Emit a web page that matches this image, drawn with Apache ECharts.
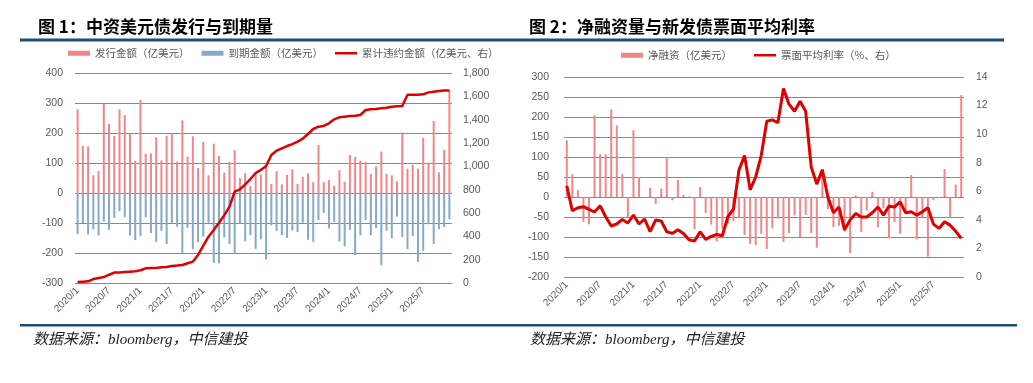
<!DOCTYPE html>
<html><head><meta charset="utf-8">
<script src="https://cdn.jsdelivr.net/npm/echarts@6/dist/echarts.min.js"></script>
<style>html,body{margin:0;padding:0;background:#fff;}#c{width:1033px;height:383px;}</style>
</head><body><div id="c"></div>
<script>
// ---- Data ----
const months = [];
for (let y = 2020; y <= 2025; y++) for (let m = 1; m <= 12; m++) months.push(y + '/' + m);

// Chart 1: issuance (亿美元)
const issuance = [279,157,155,59,74,299,230,190,279,260,199,107,
  310,131,132,186,109,191,199,104,242,121,189,83,
  170,59,164,123,68,103,143,50,66,23,66,62,
  92,30,73,29,60,79,30,54,66,36,160,36,
  43,24,76,38,127,120,108,104,64,89,138,64,
  59,39,202,81,94,81,184,101,240,69,144,343];
// Chart 1: maturity (亿美元, negative)
const maturity = [-137,-100,-138,-121,-142,-95,-123,-83,-60,-81,-142,-157,
  -143,-81,-134,-163,-126,-170,-99,-112,-199,-116,-188,-164,
  -145,-99,-233,-234,-148,-170,-203,-102,-161,-140,-186,-154,
  -222,-108,-127,-141,-150,-125,-130,-99,-156,-163,-90,-66,
  -118,-96,-162,-178,-123,-207,-141,-91,-140,-117,-241,-126,
  -151,-79,-147,-187,-144,-230,-192,-104,-170,-121,-113,-88];
// Chart 1: cumulative default (亿美元, right axis)
const cumDefault = [8,11,14,34,43,51,71,89,91,94,97,100,
  109,126,129,129,134,137,146,149,154,169,183,240,
  320,397,454,517,580,654,783,803,846,891,943,969,
  1003,1097,1134,1154,1174,1191,1211,1237,1277,1320,1340,1346,
  1369,1403,1420,1426,1431,1434,1440,1483,1489,1491,1497,1503,
  1511,1514,1517,1614,1614,1614,1617,1634,1640,1646,1651,1651];
// Chart 2: net financing (亿美元)
const netFin = [142,57,17,-62,-68,204,107,107,219,179,57,-50,
  167,50,-2,23,-17,21,100,-8,43,5,1,-81,
  25,-40,-69,-111,-80,-67,-60,-52,-95,-117,-120,-92,
  -130,-78,-54,-112,-90,-46,-100,-45,-90,-127,70,-30,
  -75,-72,-86,-140,4,-87,-33,13,-76,-28,-103,-62,
  -92,-40,55,-106,-50,-149,-8,-3,70,-52,31,255];
// Chart 2: average coupon rate (%, right axis)
const couponRate = [6.39,4.64,4.85,4.92,4.73,4.55,4.99,4.22,3.57,3.71,4.03,3.78,
  4.34,3.71,4.06,3.17,3.99,3.92,3.17,3.05,3.31,3.05,2.61,2.52,
  3.17,2.63,2.84,2.98,2.89,4.22,4.76,7.5,8.5,6.1,7.0,8.5,
  10.9,11.0,10.8,13.2,12.1,11.6,12.3,11.6,7.7,6.5,7.5,5.6,
  4.5,4.9,3.3,4.0,4.45,4.2,4.2,4.5,4.9,4.33,4.96,4.9,
  5.26,4.5,4.57,4.33,4.57,4.85,3.7,3.4,3.87,3.63,3.2,2.7];

const title1 = '图 1：中资美元债发行与到期量';
const title2 = '图 2：净融资量与新发债票面平均利率';
const source = '数据来源：bloomberg，中信建投';
const names1 = ['发行金额（亿美元）','到期金额（亿美元）','累计违约金额（亿美元、右）'];
const names2 = ['净融资（亿美元）','票面平均利率（%、右）'];

// ---- Styles ----
const PINK = '#F0868A', BLUE = '#86A9C8', RED = '#E00000', NAVY = '#1F4E79';
const GRID = '#888888', LABEL = '#595959';
const FF = '"Liberation Sans","Noto Sans CJK SC",sans-serif';
const FFCJK = '"Noto Sans CJK SC",sans-serif';
const LINE_ICON = 'path://M0,0H44V5H0Z';

const xAxisCommon = (gi) => ({
  type: 'category', gridIndex: gi, data: months, boundaryGap: true,
  axisLine: {show: false}, axisTick: {show: false},
  axisLabel: {interval: 5, rotate: 45, fontSize: 10, color: LABEL, fontFamily: FF, margin: 6}
});
const yLeft = (gi, min, max, iv, margin) => ({
  type: 'value', gridIndex: gi, min, max, interval: iv, position: 'left',
  axisLine: {show: false}, axisTick: {show: false},
  axisLabel: {fontSize: 10.5, color: LABEL, fontFamily: FF, margin},
  splitLine: {show: true, lineStyle: {color: GRID, width: 1}}
});
const yRight = (gi, min, max, iv, margin) => ({
  type: 'value', gridIndex: gi, min, max, interval: iv, position: 'right',
  axisLine: {show: false}, axisTick: {show: false},
  axisLabel: {fontSize: 10.5, color: LABEL, fontFamily: FF, margin,
    formatter: v => v.toLocaleString('en-US')},
  splitLine: {show: false}
});

const chart = echarts.init(document.getElementById('c'), null, {renderer: 'canvas'});
chart.setOption({
  animation: false,
  backgroundColor: '#fff',
  title: [
    {text: title1, left: 33, top: 13, textStyle: {fontSize: 17, fontWeight: 'bold', color: '#000', fontFamily: FFCJK}},
    {text: title2, left: 524, top: 13, textStyle: {fontSize: 17, fontWeight: 'bold', color: '#000', fontFamily: FFCJK}}
  ],
  legend: [
    {data: [{name: names1[0], icon: 'rect'}, {name: names1[1], icon: 'rect'}, {name: names1[2], icon: LINE_ICON}],
     left: 63, top: 43, itemWidth: 22, itemHeight: 5, itemGap: 12, symbolKeepAspect: true,
     textStyle: {fontSize: 10.5, color: LABEL, fontFamily: FFCJK}},
    {data: [{name: names2[0], icon: 'rect'}, {name: names2[1], icon: LINE_ICON}],
     left: 616, top: 45, itemWidth: 22, itemHeight: 5, itemGap: 22, symbolKeepAspect: true,
     textStyle: {fontSize: 10.5, color: LABEL, fontFamily: FFCJK}}
  ],
  grid: [
    {left: 75, right: 581, top: 73, bottom: 100},
    {left: 564, right: 69, top: 77, bottom: 106}
  ],
  xAxis: [xAxisCommon(0), xAxisCommon(1)],
  yAxis: [
    yLeft(0, -300, 400, 100, 12),
    yRight(0, 0, 1800, 200, 11),
    yLeft(1, -200, 300, 50, 15),
    yRight(1, 0, 14, 2, 12)
  ],
  graphic: [
    {type: 'rect', shape: {x: 20, y: 38.5, width: 496, height: 3}, style: {fill: NAVY}},
    {type: 'rect', shape: {x: 516, y: 38.5, width: 488, height: 3}, style: {fill: NAVY}},
    {type: 'rect', shape: {x: 20, y: 324, width: 997, height: 2.5}, style: {fill: NAVY}},
    {type: 'text', left: 33, top: 333, style: {text: source, font: 'italic 15px "Liberation Serif","Noto Sans CJK SC"', fill: '#222'}},
    {type: 'text', left: 530, top: 333, style: {text: source, font: 'italic 15px "Liberation Serif","Noto Sans CJK SC"', fill: '#222'}}
  ],
  series: [
    {name: names1[0], type: 'bar', xAxisIndex: 0, yAxisIndex: 0, data: issuance, barWidth: 2, barGap: '-100%', itemStyle: {color: PINK}},
    {name: names1[1], type: 'bar', xAxisIndex: 0, yAxisIndex: 0, data: maturity, barWidth: 2, barGap: '-100%', itemStyle: {color: BLUE}},
    {name: names1[2], type: 'line', xAxisIndex: 0, yAxisIndex: 1, data: cumDefault, symbol: 'none', z: 5,
     lineStyle: {color: RED, width: 2.5}, itemStyle: {color: RED}},
    {name: names2[0], type: 'bar', xAxisIndex: 1, yAxisIndex: 2, data: netFin, barWidth: 2, itemStyle: {color: PINK}},
    {name: names2[1], type: 'line', xAxisIndex: 1, yAxisIndex: 3, data: couponRate, symbol: 'none', z: 5,
     lineStyle: {color: RED, width: 3}, itemStyle: {color: RED}}
  ]
});
</script></body></html>
